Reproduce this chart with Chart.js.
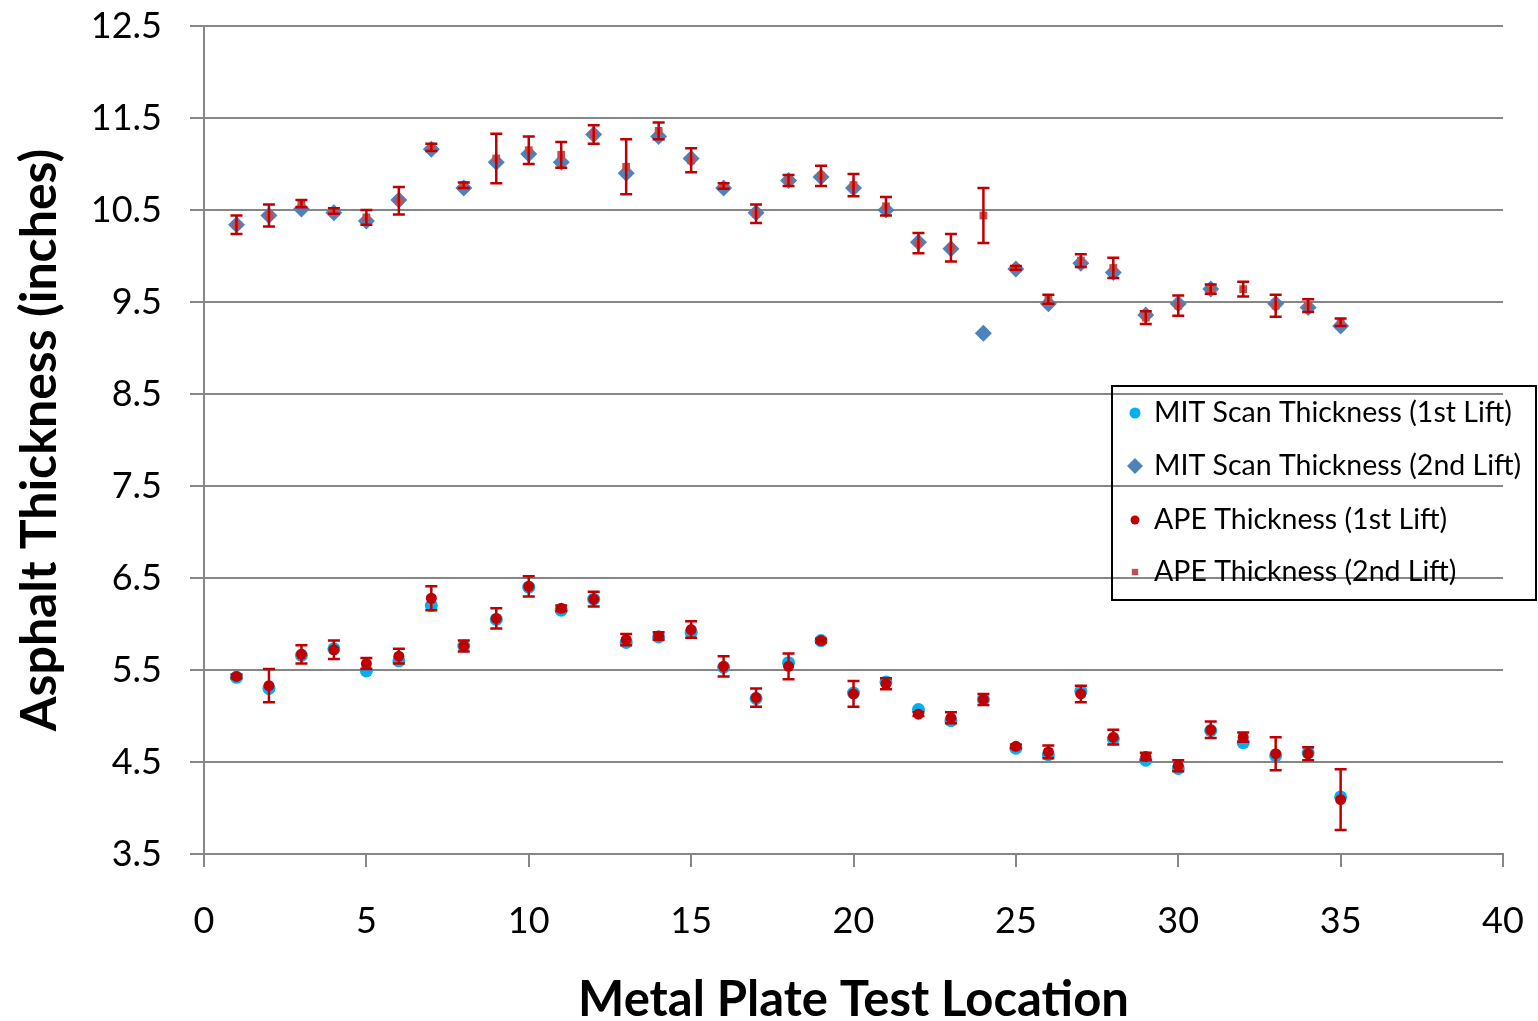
<!DOCTYPE html>
<html>
<head>
<meta charset="utf-8">
<script src="https://cdn.jsdelivr.net/npm/chart.js@4.4.1/dist/chart.umd.min.js"></script>
<style>
  html, body { margin: 0; padding: 0; background: #fff; }
  #wrap { width: 1538px; height: 1021px; position: relative; }
</style>
</head>
<body>
<div id="wrap"><canvas id="myChart"></canvas></div>
<script>
// test locations along the plate line
var locations = [1, 2, 3, 4, 5, 6, 7, 8, 9, 10, 11, 12, 13, 14, 15, 16, 17, 18, 19, 20,
                 21, 22, 23, 24, 25, 26, 27, 28, 29, 30, 31, 32, 33, 34, 35];

// thickness readings, inches
var mitLift1 = [5.42, 5.30, 5.66, 5.73, 5.49, 5.60, 6.20, 5.76, 6.05, 6.40, 6.15, 6.27, 5.80, 5.86, 5.91,
                5.53, 5.19, 5.58, 5.82, 5.25, 5.37, 5.07, 4.95, 5.18, 4.65, 4.58, 5.27, 4.75, 4.52, 4.43,
                4.84, 4.71, 4.57, 4.60, 4.12];
var mitLift2 = [10.34, 10.44, 10.51, 10.47, 10.38, 10.61, 11.16, 10.74, 11.02, 11.11, 11.02, 11.32, 10.90, 11.30, 11.06,
                10.74, 10.47, 10.82, 10.86, 10.74, 10.50, 10.15, 10.08, 9.16, 9.86, 9.48, 9.92, 9.82, 9.36, 9.48,
                9.64, null, 9.48, 9.44, 9.24];
var apeLift1 = [5.43, 5.33, 5.67, 5.72, 5.57, 5.65, 6.28, 5.76, 6.06, 6.41, 6.17, 6.27, 5.83, 5.87, 5.94,
                5.54, 5.20, 5.54, 5.82, 5.24, 5.35, 5.02, 4.98, 5.18, 4.67, 4.61, 5.24, 4.77, 4.56, 4.46,
                4.85, 4.77, 4.59, 4.59, 4.09];
var apeLift2 = [10.34, 10.44, 10.57, 10.49, 10.42, 10.60, 11.18, 10.77, 11.06, 11.15, 11.10, 11.32, 10.97, 11.36, 11.04,
                10.76, 10.46, 10.82, 10.87, 10.77, 10.54, 10.14, 10.09, 10.44, 9.87, 9.53, 9.95, 9.87, 9.33, 9.46,
                9.64, 9.64, 9.46, 9.46, 9.28];
// +/- error on the APE readings
var apeLift1Err = [0.02, 0.18, 0.10, 0.10, 0.06, 0.08, 0.13, 0.06, 0.11, 0.11, 0.03, 0.08, 0.06, 0.04, 0.09,
                   0.11, 0.10, 0.14, 0.02, 0.14, 0.06, 0.02, 0.06, 0.06, 0.02, 0.07, 0.09, 0.08, 0.04, 0.06,
                   0.09, 0.05, 0.18, 0.07, 0.33];
var apeLift2Err = [0.10, 0.12, 0.04, 0.03, 0.08, 0.15, 0.04, 0.03, 0.27, 0.15, 0.14, 0.10, 0.30, 0.09, 0.13,
                   0.03, 0.10, 0.06, 0.11, 0.12, 0.10, 0.11, 0.15, 0.30, 0.02, 0.05, 0.07, 0.11, 0.07, 0.11,
                   0.05, 0.08, 0.12, 0.07, 0.04];

var xTicks = [0, 5, 10, 15, 20, 25, 30, 35, 40];
var yTicks = [3.5, 4.5, 5.5, 6.5, 7.5, 8.5, 9.5, 10.5, 11.5, 12.5];
var yTickLabels = ['3.5', '4.5', '5.5', '6.5', '7.5', '8.5', '9.5', '10.5', '11.5', '12.5'];

function points(vals) {
    var out = [];
    for (var i = 0; i < vals.length; i++) {
        if (vals[i] !== null) out.push({ x: locations[i], y: vals[i] });
    }
    return out;
}

var gridGrey = '#868686';

// vertical error bars for datasets that carry an errors array
var errorBars = {
    id: 'errorBars',
    afterDatasetDraw: function (chart, args) {
        var ds = chart.data.datasets[args.index];
        if (!ds.errors) return;
        var ctx = chart.ctx, xs = chart.scales.x, ys = chart.scales.y;
        ctx.save();
        ctx.strokeStyle = '#C00000';
        ctx.lineWidth = 2.5;
        ds.data.forEach(function (p, i) {
            var e = ds.errors[i];
            var px = xs.getPixelForValue(p.x);
            var top = ys.getPixelForValue(p.y + e);
            var bot = ys.getPixelForValue(p.y - e);
            ctx.beginPath();
            ctx.moveTo(px, top); ctx.lineTo(px, bot);
            ctx.moveTo(px - 6, top); ctx.lineTo(px + 6, top);
            ctx.moveTo(px - 6, bot); ctx.lineTo(px + 6, bot);
            ctx.stroke();
        });
        ctx.restore();
    }
};

// boxed legend sitting over the right side of the plot
var boxLegend = {
    id: 'boxLegend',
    afterDraw: function (chart) {
        var ctx = chart.ctx;
        var left = 1112, top = 386, w = 424, h = 214;
        ctx.save();
        ctx.strokeStyle = '#000';
        ctx.lineWidth = 2;
        ctx.strokeRect(left, top, w, h);
        ctx.font = '28.5px Lato';
        ctx.textBaseline = 'middle';
        var rows = [413, 466, 520, 572];
        var sizes = [5.5, 8, 4.5, 4.5];
        chart.data.datasets.forEach(function (ds, i) {
            ctx.fillStyle = ds.backgroundColor;
            ctx.strokeStyle = ds.backgroundColor;
            Chart.helpers.drawPoint(ctx, { pointStyle: ds.pointStyle, radius: sizes[i], rotation: 0, borderWidth: 0 }, 1135, rows[i]);
            ctx.fillStyle = '#000';
            ctx.fillText(ds.label, 1154, rows[i]);
        });
        ctx.restore();
    }
};

var ctx = document.getElementById('myChart').getContext('2d');
var chart = new Chart(ctx, {
    type: 'scatter',
    data: {
        datasets: [{
            label: 'MIT Scan Thickness (1st Lift)',
            data: points(mitLift1),
            pointStyle: 'circle',
            pointRadius: 6.5,
            backgroundColor: '#00B0F0',
            borderColor: '#00B0F0',
            borderWidth: 0,
            order: 3
        }, {
            label: 'MIT Scan Thickness (2nd Lift)',
            data: points(mitLift2),
            pointStyle: 'rectRot',
            pointRadius: 8.5,
            backgroundColor: '#4F81BD',
            borderColor: '#4F81BD',
            borderWidth: 0,
            order: 3
        }, {
            label: 'APE Thickness (1st Lift)',
            data: points(apeLift1),
            errors: apeLift1Err,
            pointStyle: 'circle',
            pointRadius: 5.5,
            backgroundColor: '#C00000',
            borderColor: '#C00000',
            borderWidth: 0,
            order: 1
        }, {
            label: 'APE Thickness (2nd Lift)',
            data: points(apeLift2),
            errors: apeLift2Err,
            pointStyle: 'rect',
            pointRadius: 5.5,
            backgroundColor: '#C0504D',
            borderColor: '#C0504D',
            borderWidth: 0,
            order: 1
        }]
    },
    options: {
        responsive: true,
        maintainAspectRatio: false,
        animation: false,
        layout: { padding: { top: 26, right: 35, left: 0, bottom: 0 } },
        plugins: {
            legend: { display: false },
            tooltip: { enabled: false }
        },
        scales: {
            x: {
                type: 'linear',
                position: 'bottom',
                min: 0,
                max: 40,
                afterBuildTicks: function (scale) {
                    scale.ticks = xTicks.map(function (v) { return { value: v }; });
                },
                afterFit: function (scale) {
                    scale.height = 167;
                    scale.paddingLeft = 0;
                    scale.paddingRight = 0;
                },
                grid: { drawOnChartArea: false, drawTicks: true, tickLength: 13, color: gridGrey, lineWidth: 2 },
                border: { color: gridGrey, width: 2 },
                ticks: { color: '#000', font: { family: 'Lato', size: 36 }, padding: 33, maxRotation: 0 },
                title: {
                    display: true,
                    text: 'Metal Plate Test Location',
                    color: '#000',
                    font: { family: 'Lato', size: 49, weight: 'bold', lineHeight: 1 },
                    padding: { top: 0, bottom: -4 }
                }
            },
            y: {
                min: 3.5,
                max: 12.5,
                afterBuildTicks: function (scale) {
                    scale.ticks = yTicks.map(function (v) { return { value: v }; });
                },
                afterFit: function (scale) {
                    scale.width = 204;
                    scale.paddingTop = 0;
                    scale.paddingBottom = 0;
                },
                grid: { color: gridGrey, lineWidth: 2, tickLength: 14 },
                border: { color: gridGrey, width: 2 },
                ticks: {
                    color: '#000',
                    font: { family: 'Lato', size: 36 },
                    padding: 28,
                    callback: function (value) { return yTickLabels[yTicks.indexOf(value)]; }
                },
                title: {
                    display: true,
                    text: 'Asphalt Thickness (inches)',
                    color: '#000',
                    font: { family: 'Lato', size: 50, weight: 'bold', lineHeight: 1 },
                    padding: { top: 15, bottom: 0 }
                }
            }
        }
    },
    plugins: [errorBars, boxLegend]
});
</script>
</body>
</html>
